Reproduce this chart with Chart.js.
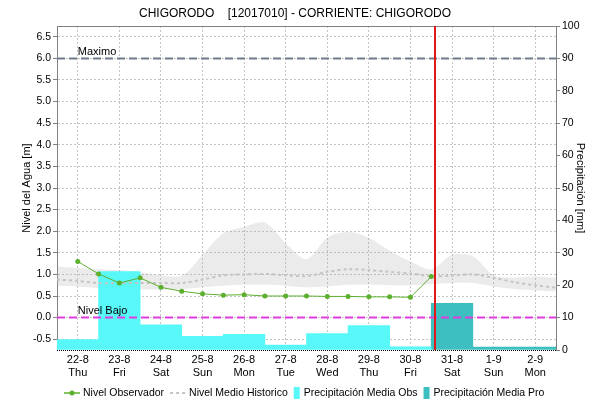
<!DOCTYPE html>
<html>
<head>
<meta charset="utf-8">
<script src="https://cdn.jsdelivr.net/npm/chart.js@4.4.1/dist/chart.umd.min.js"></script>
<style>
html,body{margin:0;padding:0;background:#fff;}
#wrap{width:590px;height:401px;}
</style>
</head>
<body>
<div id="wrap"><canvas id="c" width="590" height="401"></canvas></div>
<script>
// ---------- DATA ----------
const TITLE = 'CHIGORODO    [12017010] - CORRIENTE: CHIGORODO';
const DATES = ['22-8','23-8','24-8','25-8','26-8','27-8','28-8','29-8','30-8','31-8','1-9','2-9'];
const DAYS  = ['Thu','Fri','Sat','Sun','Mon','Tue','Wed','Thu','Fri','Sat','Sun','Mon'];
const DAY_INDEX = [0,1,2,3,4,5,6,7,8,9,10,11];

// precipitation (mm), observed days 0..8, forecast days 9..11
const PRECIP_OBS_DAY = [0,1,2,3,4,5,6,7,8];
const PRECIP_OBS = [3.2, 24.2, 7.8, 4.2, 4.8, 1.5, 5.1, 7.5, 1.0];
const PRECIP_PRO_DAY = [9,10,11];
const PRECIP_PRO = [14.4, 0.9, 0.9];

// observed water level (m), every 12 h (x in days, 0 = 22-8 noon)
const OBS_T = [0,0.5,1,1.5,2,2.5,3,3.5,4,4.5,5,5.5,6,6.5,7,7.5,8,8.5];
const OBS_LEVEL = [1.30,1.01,0.80,0.92,0.70,0.61,0.55,0.52,0.53,0.50,0.50,0.50,0.49,0.49,0.48,0.48,0.47,0.95];

// historic level: band (min/max) and mean
const HIST_T = [-0.5,0,0.5,1,1.5,2,2.5,3,3.5,4,4.5,5,5.5,6,6.5,7,7.5,8,8.5,9,9.5,10,10.5,11,11.5];
const HIST_MAX = [1.18,1.15,1.12,1.10,1.05,0.98,0.97,1.45,1.95,2.10,2.20,1.72,1.35,1.85,1.98,1.85,1.55,1.30,1.12,1.45,1.42,0.98,0.93,0.95,0.92];
const HIST_MIN = [0.74,0.72,0.68,0.66,0.65,0.65,0.66,0.70,0.74,0.76,0.76,0.74,0.70,0.72,0.76,0.76,0.75,0.75,0.77,0.80,0.80,0.72,0.66,0.63,0.61];
const HIST_MED = [0.88,0.85,0.80,0.80,0.80,0.80,0.80,0.88,0.98,1.00,1.01,0.98,0.96,1.06,1.12,1.10,1.06,1.02,0.96,0.97,1.00,0.92,0.82,0.75,0.69];

// reference levels and current time
const MAXIMO = 6.0;
const NIVEL_BAJO = 0.0;
const NOW_T = 8.6;

// axis ticks
const LEVEL_TICKS = [-0.5,0,0.5,1,1.5,2,2.5,3,3.5,4,4.5,5,5.5,6,6.5];
const PRECIP_TICKS = [0,10,20,30,40,50,60,70,80,90,100];

const LEGEND_LABELS = ['Nivel Observador','Nivel Medio Historico','Precipitación Media Obs','Precipitación Media Pro'];

// ---------- STYLE ----------
const FAMILY = '"Liberation Sans", Arial, sans-serif';
const FONT = {family: FAMILY, size: 11};
const TICK_FONT = {family: FAMILY, size: 10.5};
const C_GREEN = '#5DAF2E';
const C_MED = '#C4C4C4';
const C_OBS = '#58F8F8';
const C_PRO = '#3EBFBF';
const C_BAND = 'rgba(170,170,170,0.24)';
const C_GRID = '#C4C4C4';
const C_AXIS = '#808080';

const pts = (xs, ys) => xs.map((x, i) => ({x: x, y: ys[i]}));

const overlay = {
  id: 'overlay',
  afterDatasetsDraw(chart) {
    const {ctx, chartArea: a, scales: {x, y}} = chart;
    ctx.save();
    // top border
    ctx.strokeStyle = C_AXIS; ctx.lineWidth = 1;
    ctx.beginPath(); ctx.moveTo(a.left, Math.round(a.top) + 0.5); ctx.lineTo(a.right, Math.round(a.top) + 0.5); ctx.stroke();
    // bottom dotted axis
    ctx.strokeStyle = '#000'; ctx.setLineDash([1,1]);
    ctx.beginPath(); ctx.moveTo(a.left, Math.round(a.bottom) + 0.5); ctx.lineTo(a.right, Math.round(a.bottom) + 0.5); ctx.stroke();
    // reference lines
    const refs = [[MAXIMO, 'Maximo', '#6F7A8C'], [NIVEL_BAJO, 'Nivel Bajo', '#E03CE0']];
    ctx.font = '11px ' + FAMILY;
    refs.forEach(([v, label, col]) => {
      const py = y.getPixelForValue(v);
      ctx.setLineDash([8,4]); ctx.lineWidth = 2; ctx.strokeStyle = col;
      ctx.beginPath(); ctx.moveTo(a.left, py); ctx.lineTo(a.right, py); ctx.stroke();
      ctx.fillStyle = '#000'; ctx.textBaseline = 'bottom'; ctx.textAlign = 'left';
      ctx.fillText(label, x.getPixelForValue(0), py - 1);
    });
    // current time line
    const px = Math.round(x.getPixelForValue(NOW_T));
    ctx.setLineDash([]); ctx.lineWidth = 2; ctx.strokeStyle = '#E01818';
    ctx.beginPath(); ctx.moveTo(px, a.top); ctx.lineTo(px, a.bottom); ctx.stroke();
    ctx.restore();
  },
  afterDraw(chart) {
    const ctx = chart.ctx;
    ctx.save();
    ctx.font = '10.5px ' + FAMILY;
    ctx.textBaseline = 'middle'; ctx.textAlign = 'left';
    const yc = 393;
    let x = 64;
    const kinds = ['lineMarker', 'dotted', 'box', 'box'];
    const cols = [C_GREEN, C_MED, C_OBS, C_PRO];
    LEGEND_LABELS.forEach((lab, i) => {
      const k = kinds[i];
      if (k === 'lineMarker') {
        ctx.strokeStyle = cols[i]; ctx.lineWidth = 1.5;
        ctx.beginPath(); ctx.moveTo(x, yc); ctx.lineTo(x + 16, yc); ctx.stroke();
        ctx.fillStyle = cols[i]; ctx.beginPath(); ctx.arc(x + 8, yc, 2.5, 0, Math.PI * 2); ctx.fill();
        x += 19;
      } else if (k === 'dotted') {
        ctx.strokeStyle = cols[i]; ctx.lineWidth = 2; ctx.setLineDash([3,3]);
        ctx.beginPath(); ctx.moveTo(x, yc); ctx.lineTo(x + 15, yc); ctx.stroke();
        ctx.setLineDash([]);
        x += 19;
      } else {
        ctx.fillStyle = cols[i];
        ctx.fillRect(x, yc - 6, 6, 12);
        x += 10;
      }
      ctx.fillStyle = '#000';
      ctx.fillText(lab, x, yc);
      x += ctx.measureText(lab).width + 6;
    });
    ctx.restore();
  }
};

new Chart(document.getElementById('c'), {
  type: 'line',
  data: {
    datasets: [
      {type: 'line', label: 'hmin', data: pts(HIST_T, HIST_MIN), yAxisID: 'y', borderWidth: 0, borderColor: 'rgba(0,0,0,0)', pointRadius: 0, fill: false, order: 10, tension: 0.3},
      {type: 'line', label: 'hmax', data: pts(HIST_T, HIST_MAX), yAxisID: 'y', borderWidth: 0, borderColor: 'rgba(0,0,0,0)', pointRadius: 0, fill: '-1', backgroundColor: C_BAND, order: 10, tension: 0.3},
      {type: 'bar', label: LEGEND_LABELS[2], data: pts(PRECIP_OBS_DAY, PRECIP_OBS), yAxisID: 'yR', backgroundColor: C_OBS, borderWidth: 0, grouped: false, barPercentage: 1, categoryPercentage: 1, order: 5},
      {type: 'bar', label: LEGEND_LABELS[3], data: pts(PRECIP_PRO_DAY, PRECIP_PRO), yAxisID: 'yR', backgroundColor: C_PRO, borderWidth: 0, grouped: false, barPercentage: 1, categoryPercentage: 1, order: 5},
      {type: 'line', label: LEGEND_LABELS[1], data: pts(HIST_T, HIST_MED), yAxisID: 'y', borderColor: C_MED, borderWidth: 2, borderDash: [3,3], pointRadius: 0, fill: false, order: 3, tension: 0.3},
      {type: 'line', label: LEGEND_LABELS[0], data: pts(OBS_T, OBS_LEVEL), yAxisID: 'y', borderColor: C_GREEN, borderWidth: 1, pointRadius: 2.5, pointBackgroundColor: C_GREEN, pointBorderWidth: 0, fill: false, order: 1}
    ]
  },
  options: {
    responsive: false, animation: false, devicePixelRatio: 1,
    layout: {padding: 0},
    plugins: {
      legend: {display: false},
      tooltip: {enabled: false},
      title: {display: true, text: TITLE, color: '#000', font: {family: FAMILY, size: 12, weight: 'normal'}, padding: {top: 6, bottom: 5.6}}
    },
    scales: {
      x: {
        type: 'linear', min: -0.5, max: 11.5, offset: false,
        afterBuildTicks: s => { s.ticks = DAY_INDEX.map(v => ({value: v})); },
        afterFit: s => { s.height = 51; },
        ticks: {autoSkip: false, maxRotation: 0, padding: 3, color: '#000', font: FONT,
          callback: v => [DATES[v], DAYS[v]]},
        grid: {offset: false, color: C_GRID, drawTicks: false},
        border: {display: false, dash: [2,2]}
      },
      y: {
        type: 'linear', position: 'left', min: -0.75, max: 6.75,
        afterBuildTicks: s => { s.ticks = LEVEL_TICKS.map(v => ({value: v})); },
        afterFit: s => { s.width = 57; },
        ticks: {color: '#000', font: TICK_FONT, padding: 2, callback: v => Number(v).toFixed(1)},
        grid: {color: C_GRID, tickColor: C_AXIS, tickLength: 4},
        border: {display: true, color: C_AXIS, dash: [2,2]},
        title: {display: true, text: 'Nivel del Agua [m]', color: '#000', font: FONT, padding: {top: 20, bottom: 0}}
      },
      yR: {
        type: 'linear', position: 'right', min: 0, max: 100,
        afterBuildTicks: s => { s.ticks = PRECIP_TICKS.map(v => ({value: v})); },
        afterFit: s => { s.width = 34; },
        ticks: {color: '#000', font: TICK_FONT, padding: 2},
        grid: {drawOnChartArea: false, tickColor: C_AXIS, tickLength: 4},
        border: {display: true, color: C_AXIS},
        title: {display: true, text: 'Precipitación [mm]', color: '#000', font: FONT, padding: {top: 3, bottom: 0}}
      }
    }
  },
  plugins: [overlay]
});
</script>
</body>
</html>
